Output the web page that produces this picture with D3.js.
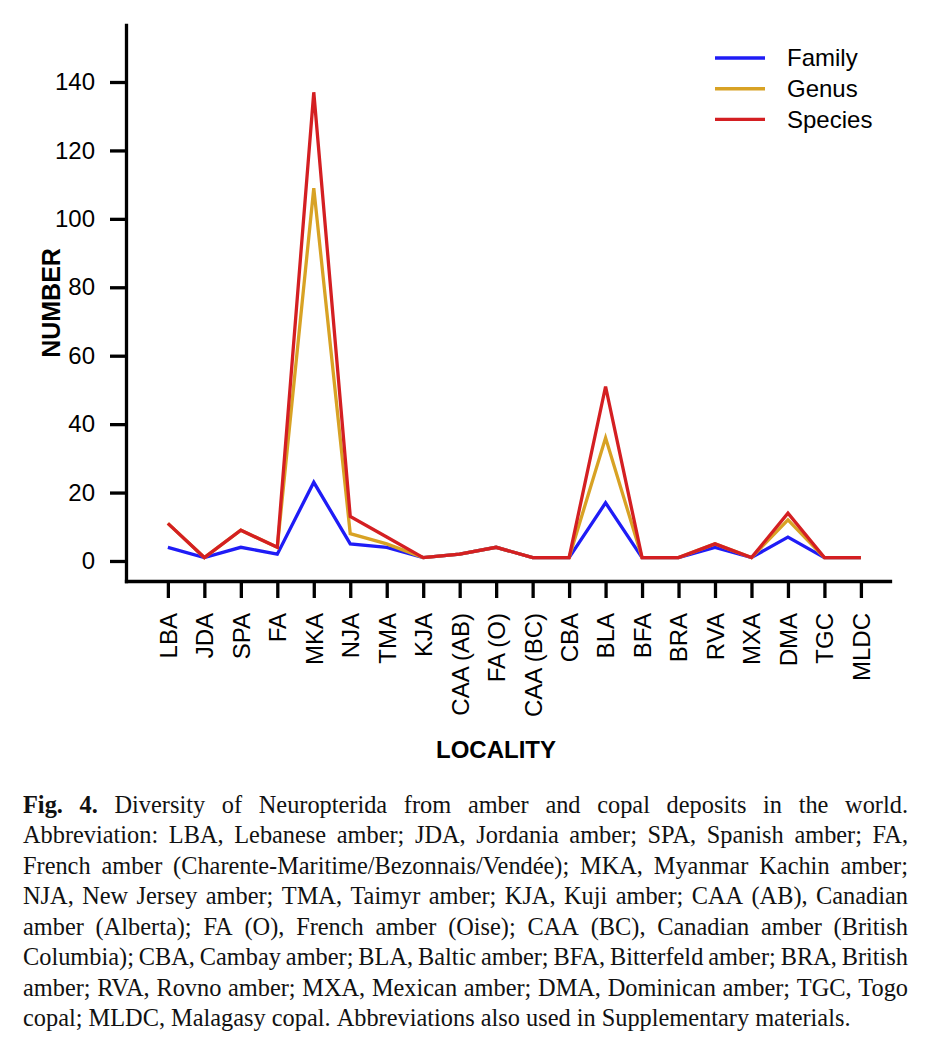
<!DOCTYPE html>
<html>
<head>
<meta charset="utf-8">
<script src="https://cdn.jsdelivr.net/npm/d3@7"></script>
<style>
  body { margin: 0; background: #fff; }
  svg text { fill: #000; }
</style>
</head>
<body>
<div id="chart"></div>
<script>
// Data
const localities = ["LBA", "JDA", "SPA", "FA", "MKA", "NJA", "TMA", "KJA", "CAA (AB)", "FA (O)",
  "CAA (BC)", "CBA", "BLA", "BFA", "BRA", "RVA", "MXA", "DMA", "TGC", "MLDC"];
const family = [4, 1, 4, 2, 23, 5, 4, 1, 2, 4, 1, 1, 17, 1, 1, 4, 1, 7, 1, 1];
const genus = [11, 1, 9, 4, 109, 8, 5, 1, 2, 4, 1, 1, 36, 1, 1, 5, 1, 12, 1, 1];
const species = [11, 1, 9, 4, 137, 13, 7, 1, 2, 4, 1, 1, 51, 1, 1, 5, 1, 14, 1, 1];
const yTicks = [0, 20, 40, 60, 80, 100, 120, 140];
const seriesNames = ["Family", "Genus", "Species"];
const seriesColors = ["#1f1cf6", "#d8a224", "#d41f22"];

const captionLines = [
  "Fig. 4. Diversity of Neuropterida from amber and copal deposits in the world.",
  "Abbreviation: LBA, Lebanese amber; JDA, Jordania amber; SPA, Spanish amber; FA,",
  "French amber (Charente-Maritime/Bezonnais/Vendée); MKA, Myanmar Kachin amber;",
  "NJA, New Jersey amber; TMA, Taimyr amber; KJA, Kuji amber; CAA (AB), Canadian",
  "amber (Alberta); FA (O), French amber (Oise); CAA (BC), Canadian amber (British",
  "Columbia); CBA, Cambay amber; BLA, Baltic amber; BFA, Bitterfeld amber; BRA, British",
  "amber; RVA, Rovno amber; MXA, Mexican amber; DMA, Dominican amber; TGC, Togo",
  "copal; MLDC, Malagasy copal. Abbreviations also used in Supplementary materials."
];

// Dimensions
const width = 940;
const height = 1047;
const plot = { left: 126, right: 890, top: 25, bottom: 581 };
const sansFont = "'Liberation Sans', Arial, sans-serif";
const serifFont = "'Liberation Serif', 'Times New Roman', serif";

const svg = d3.select("#chart")
  .append("svg")
  .attr("width", width)
  .attr("height", height);

// Scales
const x = d3.scalePoint()
  .domain(localities)
  .range([plot.left, plot.right])
  .padding(0.973)
  .align(0.59);

const y = d3.scaleLinear()
  .domain([-5.85, 156.66])
  .range([plot.bottom, plot.top]);

// Lines
const line = d3.line()
  .x((d, i) => x(localities[i]))
  .y(d => y(d));

[family, genus, species].forEach((values, k) => {
  svg.append("path")
    .datum(values)
    .attr("fill", "none")
    .attr("stroke", seriesColors[k])
    .attr("stroke-width", 3.3)
    .attr("d", line);
});

// Axes
const xAxis = d3.axisBottom(x).tickSize(17).tickSizeOuter(0);
const xAxisGroup = svg.append("g")
  .attr("transform", `translate(0, ${plot.bottom})`)
  .call(xAxis);

xAxisGroup.selectAll("text")
  .attr("transform", "rotate(-90)")
  .attr("x", -32)
  .attr("y", 0)
  .attr("dy", "0.35em")
  .style("text-anchor", "end");

const yAxis = d3.axisLeft(y).tickValues(yTicks).tickSize(16).tickPadding(15).tickSizeOuter(0);
const yAxisGroup = svg.append("g")
  .attr("transform", `translate(${plot.left}, 0)`)
  .call(yAxis);

[xAxisGroup, yAxisGroup].forEach(g => {
  g.select(".domain").attr("stroke", "#000").attr("stroke-width", 3.3).attr("stroke-linecap", "square");
  g.selectAll(".tick line").attr("stroke", "#000").attr("stroke-width", 3.3);
  g.selectAll(".tick text")
    .attr("fill", "#000")
    .style("font-family", sansFont)
    .style("font-size", "24px");
});

// Axis titles
svg.append("text")
  .attr("transform", "translate(60, 303) rotate(-90)")
  .attr("text-anchor", "middle")
  .style("font-family", sansFont)
  .style("font-weight", "bold")
  .style("font-size", "25px")
  .text("NUMBER");

svg.append("text")
  .attr("x", 496)
  .attr("y", 758)
  .attr("text-anchor", "middle")
  .style("font-family", sansFont)
  .style("font-weight", "bold")
  .style("font-size", "24px")
  .text("LOCALITY");

// Legend
const legend = svg.append("g").attr("transform", "translate(715, 58)");
seriesNames.forEach((name, k) => {
  const row = legend.append("g").attr("transform", `translate(0, ${k * 30.7})`);
  row.append("line")
    .attr("x1", 0).attr("x2", 50)
    .attr("stroke", seriesColors[k])
    .attr("stroke-width", 3.4);
  row.append("text")
    .attr("x", 72)
    .attr("dy", "0.35em")
    .style("font-family", sansFont)
    .style("font-size", "24px")
    .text(name);
});

// Caption, justified word by word
const caption = svg.append("g");
const capLeft = 23, capRight = 908, capTop = 813, capStep = 30.45;

function measure(size, bold, str) {
  const t = caption.append("text")
    .style("font-family", serifFont)
    .style("font-size", size + "px")
    .style("font-weight", bold ? "bold" : "normal")
    .text(str);
  const w = t.node().getComputedTextLength();
  t.remove();
  return w;
}

// size the font so the last (unjustified) line has the reference width,
// but keep every justified line wide enough for its word gaps
const base = 20;
let capSize = base * 860 / measure(base, false, captionLines[captionLines.length - 1]);
captionLines.slice(0, -1).forEach((str, i) => {
  const words = str.split(" ");
  const sumW = d3.sum(words, (w, j) => measure(base, i === 0 && j < 2, w));
  const minGap = 0.2 * base;
  const fit = base * (capRight - capLeft) / (sumW + minGap * (words.length - 1));
  capSize = Math.min(capSize, fit);
});
const spaceW = measure(capSize, false, "a a") - measure(capSize, false, "aa");

captionLines.forEach((str, i) => {
  const words = str.split(" ");
  const bold = words.map((w, j) => i === 0 && j < 2);
  const widths = words.map((w, j) => measure(capSize, bold[j], w));
  const total = d3.sum(widths);
  const last = i === captionLines.length - 1;
  const gap = last ? spaceW : (capRight - capLeft - total) / (words.length - 1);
  let cx = capLeft;
  words.forEach((w, j) => {
    caption.append("text")
      .attr("x", cx)
      .attr("y", capTop + i * capStep)
      .style("font-family", serifFont)
      .style("font-size", capSize + "px")
      .style("font-weight", bold[j] ? "bold" : "normal")
      .style("fill", "#111")
      .text(w);
    cx += widths[j] + gap;
  });
});
</script>
</body>
</html>
